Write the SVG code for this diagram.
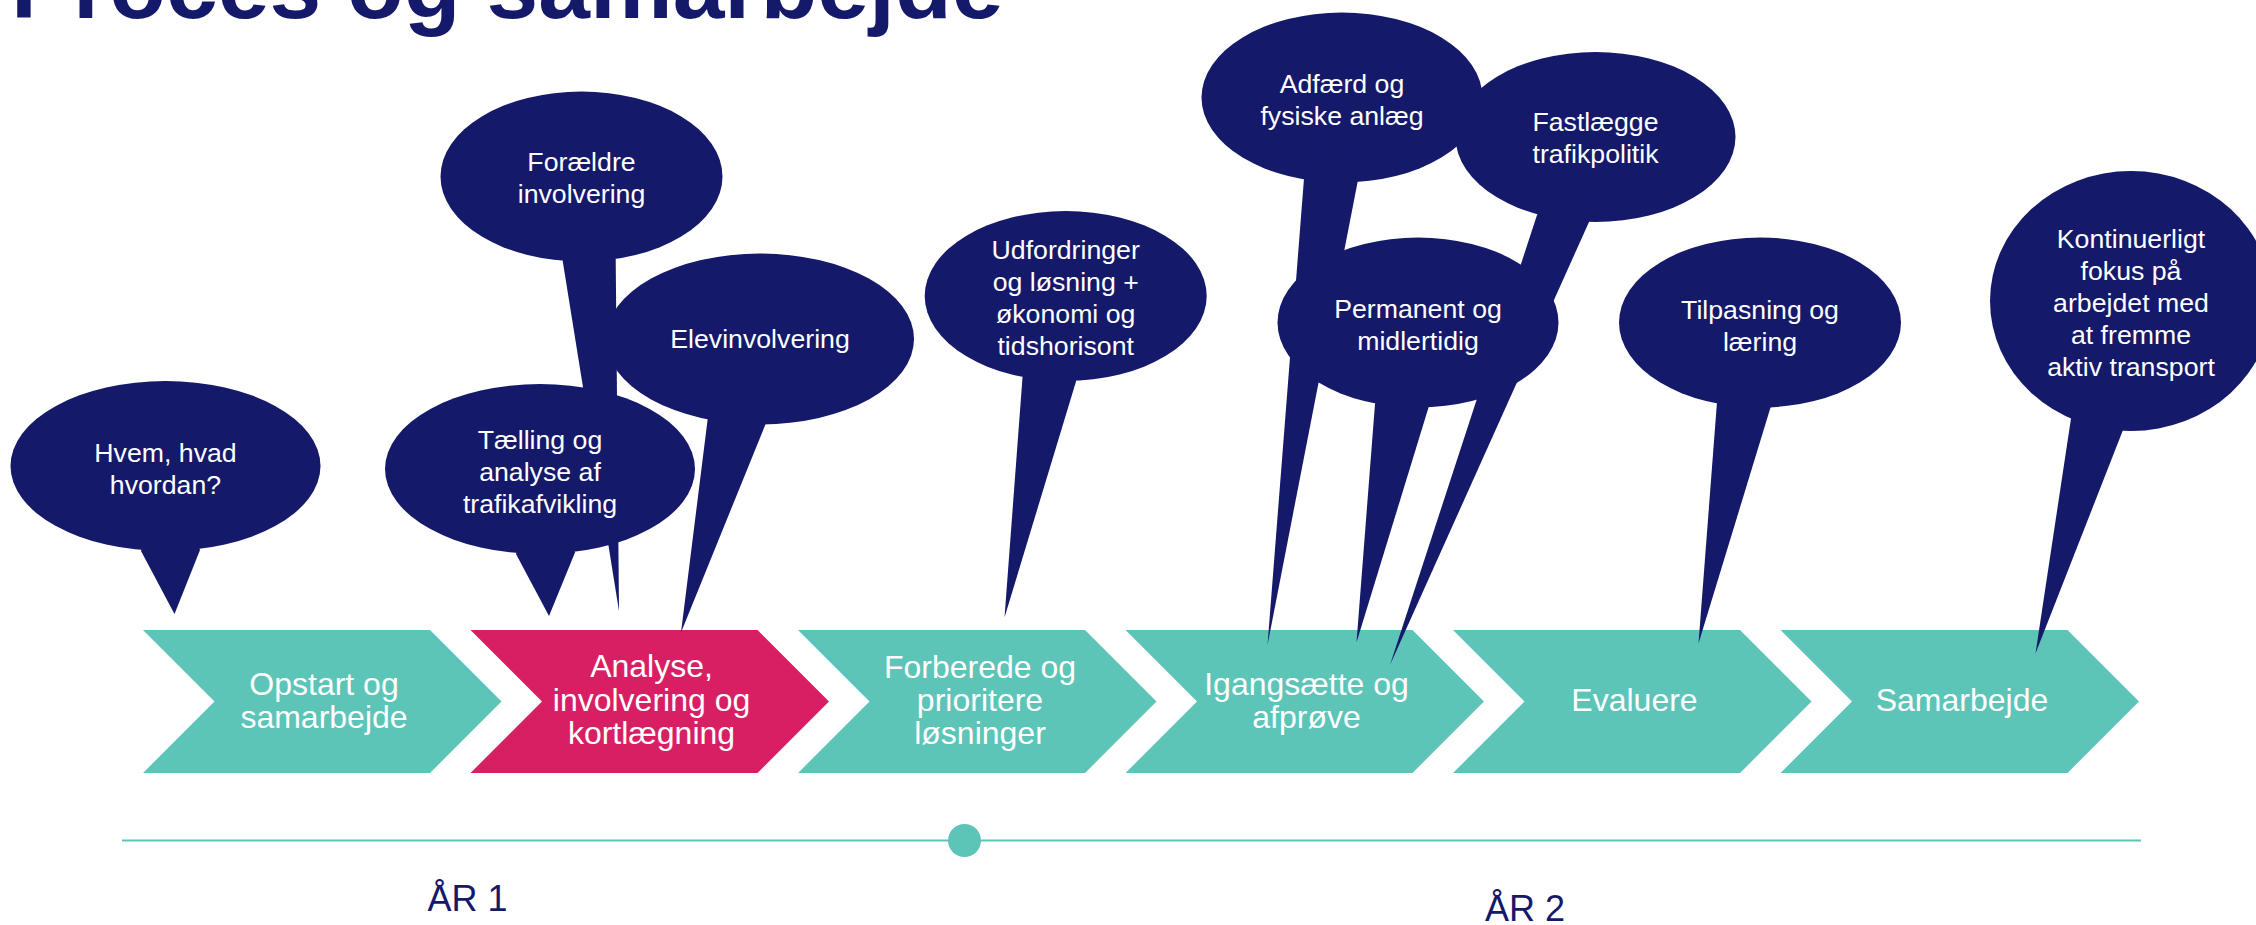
<svg xmlns="http://www.w3.org/2000/svg" width="2256" height="925" viewBox="0 0 2256 925">
<style>
.navy{fill:#15196A}
.teal{fill:#5DC4B8}
.pink{fill:#D81F64}
.bt{fill:#FFFFFF;font-family:"Liberation Sans",Arial,sans-serif;font-size:26.7px;text-anchor:middle}
.ct{fill:#FFFFFF;font-family:"Liberation Sans",Arial,sans-serif;font-size:32px;text-anchor:middle}
.yr{fill:#15196A;font-family:"Liberation Sans",Arial,sans-serif;font-size:36px;text-anchor:middle}
.title{fill:#15196A;font-family:"Liberation Sans",Arial,sans-serif;font-size:93px;font-weight:bold}
</style>
<rect width="2256" height="925" fill="#FFFFFF"/>
<text class="title" x="11" y="18">Proces og samarbejde</text>

<g id="timeline">
<line x1="122" y1="840.5" x2="2141" y2="840.5" stroke="#5DC4B8" stroke-width="2"/>
<circle cx="964.5" cy="840.5" r="16.5" class="teal"/>
</g>
<text class="yr" x="467.5" y="911">ÅR 1</text>
<text class="yr" x="1525" y="921">ÅR 2</text>

<g id="step-1"><polygon class="teal" points="143,630 430,630 501.5,701.5 430,773 143,773 214.5,701.5"/>
<text class="ct"><tspan x="324" y="695">Opstart og</tspan><tspan x="324" y="728">samarbejde</tspan></text></g>
<g id="step-2"><polygon class="pink" points="470.5,630 757.5,630 829,701.5 757.5,773 470.5,773 542,701.5"/>
<text class="ct"><tspan x="651.5" y="677">Analyse,</tspan><tspan x="651.5" y="710.5">involvering og</tspan><tspan x="651.5" y="744">kortlægning</tspan></text></g>
<g id="step-3"><polygon class="teal" points="798,630 1085,630 1156.5,701.5 1085,773 798,773 869.5,701.5"/>
<text class="ct"><tspan x="980" y="678">Forberede og</tspan><tspan x="980" y="711">prioritere</tspan><tspan x="980" y="744">løsninger</tspan></text></g>
<g id="step-4"><polygon class="teal" points="1125.5,630 1412.5,630 1484,701.5 1412.5,773 1125.5,773 1197,701.5"/>
<text class="ct"><tspan x="1306.5" y="695">Igangsætte og</tspan><tspan x="1306.5" y="728">afprøve</tspan></text></g>
<g id="step-5"><polygon class="teal" points="1453,630 1740,630 1811.5,701.5 1740,773 1453,773 1524.5,701.5"/>
<text class="ct"><tspan x="1634.5" y="711">Evaluere</tspan></text></g>
<g id="step-6"><polygon class="teal" points="1780.5,630 2067.5,630 2139,701.5 2067.5,773 1780.5,773 1852,701.5"/>
<text class="ct"><tspan x="1962" y="711">Samarbejde</tspan></text></g>

<g id="bubble-hvem"><ellipse class="navy" cx="165.5" cy="466" rx="155" ry="85"/>
<polygon class="navy" points="141,551 174.5,614 200,550 165.5,466"/>
<text class="bt"><tspan x="165.5" y="461.5">Hvem, hvad</tspan><tspan x="165.5" y="493.5">hvordan?</tspan></text></g>
<g id="bubble-foraeldre"><ellipse class="navy" cx="581.5" cy="176.5" rx="141" ry="85"/>
<polygon class="navy" points="562.7,261 619,611 615.7,259.3 581.5,176.5"/>
<text class="bt"><tspan x="581.5" y="171">Forældre</tspan><tspan x="581.5" y="203">involvering</tspan></text></g>
<g id="bubble-taelling"><ellipse class="navy" cx="540" cy="469" rx="155" ry="85"/>
<polygon class="navy" points="516,554 549,616 575,552.5 540,469"/>
<text class="bt"><tspan x="540" y="448.5">Tælling og</tspan><tspan x="540" y="480.5">analyse af</tspan><tspan x="540" y="512.5">trafikafvikling</tspan></text></g>
<g id="bubble-elev"><ellipse class="navy" cx="760" cy="339" rx="154" ry="85.5"/>
<polygon class="navy" points="707.7,419 681,632.5 766,423 760,339"/>
<text class="bt"><tspan x="760" y="348">Elevinvolvering</tspan></text></g>
<g id="bubble-udfordringer"><ellipse class="navy" cx="1065.7" cy="296" rx="141" ry="85"/>
<polygon class="navy" points="1022.5,377.5 1004.5,617.5 1076,381.5 1065.7,296"/>
<text class="bt"><tspan x="1065.7" y="258.5">Udfordringer</tspan><tspan x="1065.7" y="290.5">og løsning +</tspan><tspan x="1065.7" y="322.5">økonomi og</tspan><tspan x="1065.7" y="354.5">tidshorisont</tspan></text></g>
<g id="bubble-adfaerd"><ellipse class="navy" cx="1342" cy="97.5" rx="140.5" ry="85"/>
<polygon class="navy" points="1304,178.5 1267.5,645 1357.5,182.5 1342,97.5"/>
<text class="bt"><tspan x="1342" y="92.5">Adfærd og</tspan><tspan x="1342" y="124.5">fysiske anlæg</tspan></text></g>
<g id="bubble-fastlaegge"><ellipse class="navy" cx="1595.5" cy="137" rx="140" ry="85"/>
<polygon class="navy" points="1537,215 1390,665 1589,222 1595.5,137"/>
<text class="bt"><tspan x="1595.5" y="131">Fastlægge</tspan><tspan x="1595.5" y="163">trafikpolitik</tspan></text></g>
<g id="bubble-permanent"><ellipse class="navy" cx="1418" cy="322.5" rx="140.5" ry="85"/>
<polygon class="navy" points="1375,404 1356.5,642.5 1428.5,407.5 1418,322.5"/>
<text class="bt"><tspan x="1418" y="317.5">Permanent og</tspan><tspan x="1418" y="349.5">midlertidig</tspan></text></g>
<g id="bubble-tilpasning"><ellipse class="navy" cx="1760" cy="322.5" rx="141" ry="85"/>
<polygon class="navy" points="1717,402 1698.5,643.5 1770.5,407.5 1760,322.5"/>
<text class="bt"><tspan x="1760" y="318.5">Tilpasning og</tspan><tspan x="1760" y="350.5">læring</tspan></text></g>
<g id="bubble-kontinuerligt"><ellipse class="navy" cx="2131" cy="301" rx="141" ry="130"/>
<polygon class="navy" points="2071,418.5 2035.5,653.5 2123,430 2131,301"/>
<text class="bt"><tspan x="2131" y="247.5">Kontinuerligt</tspan><tspan x="2131" y="279.5">fokus på</tspan><tspan x="2131" y="311.5">arbejdet med</tspan><tspan x="2131" y="343.5">at fremme</tspan><tspan x="2131" y="375.5">aktiv transport</tspan></text></g>
</svg>
